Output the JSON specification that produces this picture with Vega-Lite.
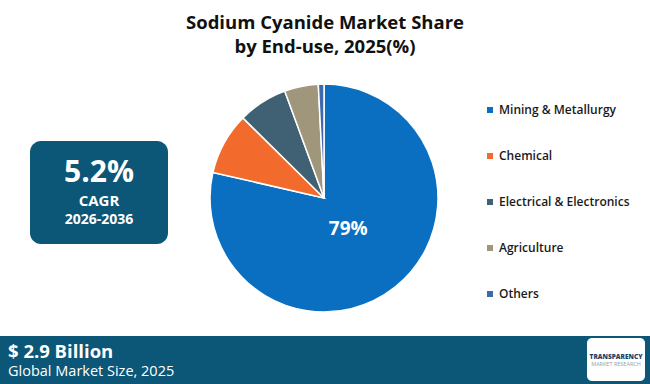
{
  "$schema": "https://vega.github.io/schema/vega-lite/v6.json",
  "width": 650,
  "height": 324,
  "autosize": "none",
  "padding": {"top": 60, "left": 0, "right": 0, "bottom": 0},
  "background": "white",
  "config": {"view": {"stroke": null}},
  "title": {
    "text": ["Sodium Cyanide Market Share", "by End-use, 2025(%)"],
    "font": "Open Sans",
    "fontSize": 18.5,
    "fontWeight": 700,
    "color": "#111111",
    "anchor": "middle",
    "frame": "group",
    "lineHeight": 24,
    "offset": 4
  },
  "datasets": {
    "shares": [
      {"segment": "Mining & Metallurgy", "share": 78.6},
      {"segment": "Chemical", "share": 8.8},
      {"segment": "Electrical & Electronics", "share": 7.0},
      {"segment": "Agriculture", "share": 4.8},
      {"segment": "Others", "share": 0.8}
    ]
  },
  "layer": [
    {
      "data": {"values": [{}]},
      "mark": {"type": "rect", "x": 30, "x2": 168, "y": 81, "y2": 184, "cornerRadius": 11, "color": "#0C5677"}
    },
    {
      "data": {"values": [{}]},
      "mark": {"type": "text", "text": "5.2%", "x": 99, "y": 113, "align": "center", "baseline": "middle", "font": "Open Sans", "fontSize": 30, "fontWeight": 700, "color": "white"}
    },
    {
      "data": {"values": [{}]},
      "mark": {"type": "text", "text": "CAGR", "x": 99, "y": 141, "align": "center", "baseline": "middle", "font": "Open Sans", "fontSize": 15, "fontWeight": 700, "color": "white"}
    },
    {
      "data": {"values": [{}]},
      "mark": {"type": "text", "text": "2026-2036", "x": 99, "y": 160, "align": "center", "baseline": "middle", "font": "Open Sans", "fontSize": 14, "fontWeight": 700, "color": "white"}
    },
    {
      "data": {"values": [{}]},
      "mark": {"type": "rect", "x": 0, "x2": 650, "y": 276, "y2": 324, "color": "#0C5677"}
    },
    {
      "data": {"values": [{}]},
      "mark": {"type": "text", "text": "$ 2.9 Billion", "x": 8, "y": 292, "align": "left", "baseline": "middle", "font": "Open Sans", "fontSize": 18.5, "fontWeight": 700, "color": "white"}
    },
    {
      "data": {"values": [{}]},
      "mark": {"type": "text", "text": "Global Market Size, 2025", "x": 8, "y": 312, "align": "left", "baseline": "middle", "font": "Open Sans", "fontSize": 14.5, "fontWeight": 400, "color": "white"}
    },
    {
      "data": {"values": [{}]},
      "mark": {"type": "rect", "x": 587, "x2": 645, "y": 278, "y2": 321, "cornerRadius": 5, "color": "white"}
    },
    {
      "data": {"values": [{}]},
      "mark": {"type": "text", "text": "TRANSPARENCY", "x": 616, "y": 297, "align": "center", "baseline": "middle", "font": "Open Sans", "fontSize": 6.5, "fontWeight": 800, "color": "#1F3F66"}
    },
    {
      "data": {"values": [{}]},
      "mark": {"type": "text", "text": "MARKET RESEARCH", "x": 616, "y": 304, "align": "center", "baseline": "middle", "font": "Open Sans", "fontSize": 5.5, "fontWeight": 400, "color": "#8FA5A0"}
    },
    {
      "data": {"name": "shares"},
      "transform": [{"window": [{"op": "row_number", "as": "idx"}]}],
      "mark": {"type": "arc", "x": 324, "y": 138, "outerRadius": 114, "stroke": "white", "strokeWidth": 1.5},
      "encoding": {
        "theta": {"field": "share", "type": "quantitative", "stack": true},
        "order": {"field": "idx", "type": "quantitative"},
        "color": {
          "field": "segment",
          "type": "nominal",
          "scale": {
            "domain": ["Mining & Metallurgy", "Chemical", "Electrical & Electronics", "Agriculture", "Others"],
            "range": ["#0A6FC0", "#F26A2C", "#3F6173", "#A0967C", "#3D68AC"]
          },
          "legend": {
            "title": null,
            "orient": "none",
            "legendX": 484,
            "legendY": 44,
            "symbolType": "square",
            "symbolSize": 36,
            "symbolStrokeWidth": 0,
            "labelFont": "Open Sans",
            "labelFontSize": 12,
            "labelFontWeight": 600,
            "labelColor": "#1A1A1A",
            "labelOffset": 3,
            "rowPadding": 34,
            "labelLimit": 200
          }
        }
      }
    },
    {
      "data": {"name": "shares"},
      "transform": [
        {"window": [{"op": "row_number", "as": "idx"}]},
        {"calculate": "format(datum.share, '.0f') + '%'", "as": "label"}
      ],
      "mark": {"type": "text", "x": 324, "y": 138, "radius": 39, "font": "Open Sans", "fontSize": 19, "fontWeight": 700, "color": "white", "align": "center", "baseline": "middle"},
      "encoding": {
        "theta": {"field": "share", "type": "quantitative", "stack": true},
        "order": {"field": "idx", "type": "quantitative"},
        "text": {"condition": {"test": "datum.segment === 'Mining & Metallurgy'", "field": "label"}, "value": ""}
      }
    }
  ]
}
